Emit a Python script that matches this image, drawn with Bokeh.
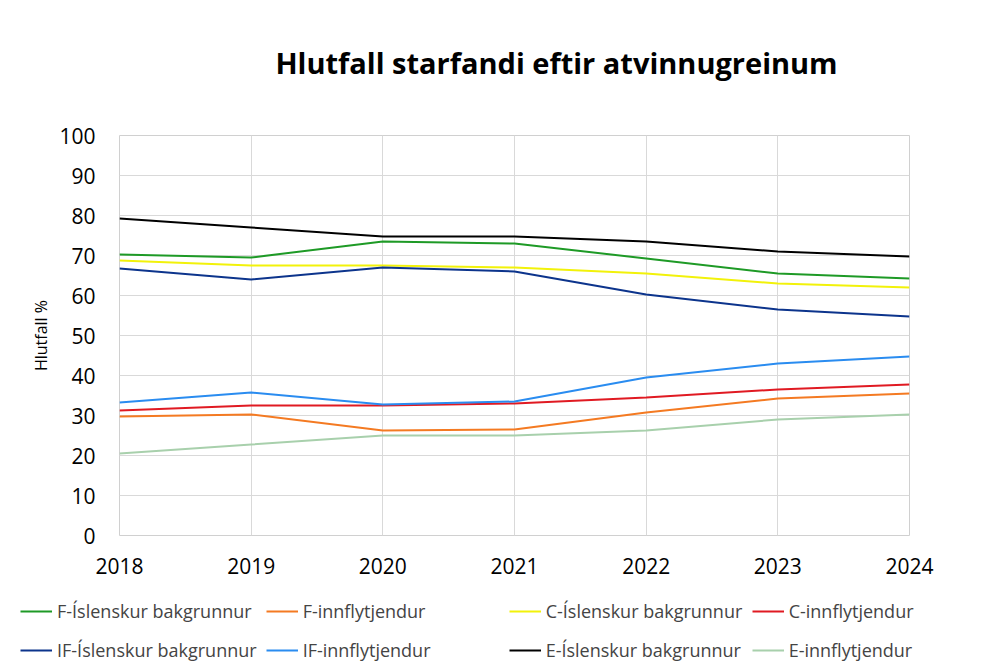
from bokeh.plotting import figure
from bokeh.layouts import column
from bokeh.models import Legend, LegendItem, Label, FixedTicker, Range1d
from bokeh.embed import file_html
from bokeh.resources import INLINE

years = [2018, 2019, 2020, 2021, 2022, 2023, 2024]
f_isl = [70.25, 69.5, 73.5, 73.0, 69.25, 65.5, 64.25]
f_inn = [29.75, 30.25, 26.25, 26.5, 30.75, 34.25, 35.5]
c_isl = [68.75, 67.5, 67.5, 67.0, 65.5, 63.0, 62.0]
c_inn = [31.25, 32.5, 32.5, 33.0, 34.5, 36.5, 37.75]
if_isl = [66.75, 64.0, 67.0, 66.0, 60.25, 56.5, 54.75]
if_inn = [33.25, 35.75, 32.75, 33.5, 39.5, 43.0, 44.75]
e_isl = [79.25, 77.0, 74.75, 74.75, 73.5, 71.0, 69.75]
e_inn = [20.5, 22.75, 25.0, 25.0, 26.25, 29.0, 30.25]

names = ["F-Íslenskur bakgrunnur", "F-innflytjendur", "C-Íslenskur bakgrunnur", "C-innflytjendur",
         "IF-Íslenskur bakgrunnur", "IF-innflytjendur", "E-Íslenskur bakgrunnur", "E-innflytjendur"]
series = [f_isl, f_inn, c_isl, c_inn, if_isl, if_inn, e_isl, e_inn]
colors = ["#1e9a26", "#f47a22", "#f2f20a", "#e01a22", "#0c348c", "#2a8cf0", "#000000", "#a8d0ac"]
title_text = "Hlutfall starfandi eftir atvinnugreinum"

FONT = "Open Sans"


def blank(height, yr=(0, 1)):
    f = figure(width=1000, height=height, output_backend="svg", toolbar_location=None,
               x_range=Range1d(0, 1000), y_range=Range1d(*yr),
               x_axis_location=None, y_axis_location=None,
               min_border_left=0, min_border_right=0, min_border_top=0, min_border_bottom=0)
    f.xgrid.visible = False
    f.ygrid.visible = False
    f.outline_line_color = None
    f.frame_align = False
    return f


# title strip
tp = blank(100, (0, 100))
tp.add_layout(Label(x=556, y=38, text=title_text, text_align="center", text_baseline="middle",
                    text_font=FONT, text_font_size="29px", text_font_style="bold",
                    text_color="#000000"))

# main chart
p = figure(width=1000, height=489, output_backend="svg", toolbar_location=None,
           x_range=Range1d(2018, 2024), y_range=Range1d(0, 100),
           min_border_left=119, min_border_right=91, min_border_top=35, min_border_bottom=54)
p.frame_align = False

for ys, c in zip(series, colors):
    p.line(years, ys, line_color=c, line_width=2)

p.xaxis.ticker = FixedTicker(ticks=years)
p.yaxis.ticker = FixedTicker(ticks=list(range(0, 101, 10)))
for ax in (p.xaxis[0], p.yaxis[0]):
    ax.axis_line_color = None
    ax.major_tick_line_color = None
    ax.minor_tick_line_color = None
    ax.major_label_text_font = FONT
    ax.major_label_text_font_size = "21px"
    ax.major_label_text_color = "#000000"
p.xaxis.major_label_standoff = 16
p.yaxis.major_label_standoff = 18
p.yaxis.axis_label = "Hlutfall %"
p.yaxis.axis_label_text_font = FONT
p.yaxis.axis_label_text_font_size = "16px"
p.yaxis.axis_label_text_font_style = "normal"
p.yaxis.axis_label_text_color = "#000000"
p.yaxis.axis_label_standoff = 4

p.xgrid.grid_line_color = "#d9d9d9"
p.ygrid.grid_line_color = "#d9d9d9"
p.outline_line_color = "#d0d0d0"

# legend strip (series drawn out of view, only their legend keys show)
lp = blank(80)
keys = [lp.line(years, ys, line_color=c, line_width=2) for ys, c in zip(series, colors)]
items = [LegendItem(label=n, renderers=[k]) for n, k in zip(names, keys)]
lg = Legend(items=items, location=(20, 4), orientation="horizontal", ncols=4,
            label_text_font=FONT, label_text_font_size="18px",
            glyph_width=32, glyph_height=30, label_height=30, label_width=197,
            label_standoff=5, spacing=9, padding=0, margin=0,
            border_line_color=None, background_fill_alpha=0)
lp.add_layout(lg, "center")

open("out.html", "w").write(file_html(column(tp, p, lp, spacing=0), INLINE))
